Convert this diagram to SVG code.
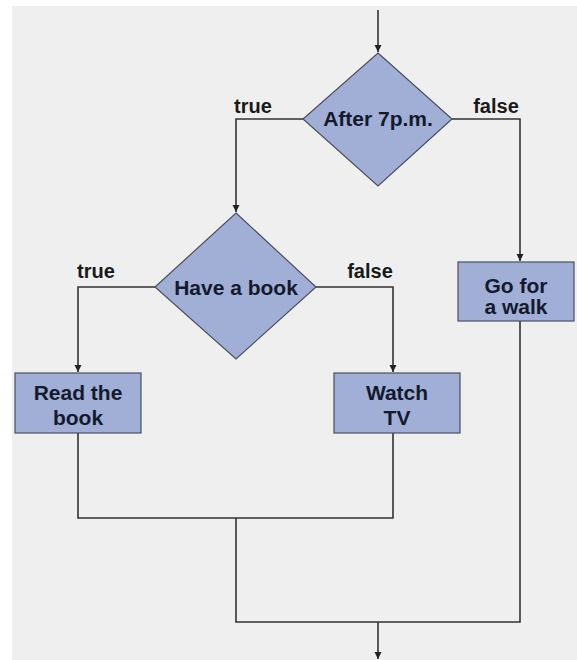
<svg xmlns="http://www.w3.org/2000/svg" width="577" height="660" viewBox="0 0 577 660">
<defs>
<marker id="arr" viewBox="0 0 10 10" refX="10" refY="5" markerWidth="7" markerHeight="9" markerUnits="userSpaceOnUse" orient="auto">
<path d="M0,0 L10,5 L0,10 z" fill="#222"/>
</marker>
<style>
.shape{fill:#a1afd7;stroke:#4a4f5e;stroke-width:1.2}
.t{font-family:"Liberation Sans",Arial,sans-serif;font-weight:bold;font-size:21px;fill:#141a2e;text-anchor:middle}
.lbl{font-family:"Liberation Sans",Arial,sans-serif;font-weight:bold;font-size:20px;fill:#1a1a1a;text-anchor:middle}
.c{fill:none;stroke:#333;stroke-width:1.6}
</style>
</defs>
<rect x="0" y="0" width="577" height="660" fill="#ffffff"/>
<rect x="12" y="6" width="565" height="654" fill="#efefef"/>
<g id="connectors">
<path class="c" d="M378,10 V52" marker-end="url(#arr)"/>
<path class="c" d="M303,119 H236 V212" marker-end="url(#arr)"/>
<path class="c" d="M452,119 H520 V261" marker-end="url(#arr)"/>
<path class="c" d="M155,287 H78 V372" marker-end="url(#arr)"/>
<path class="c" d="M316,287 H393 V372" marker-end="url(#arr)"/>
<path class="c" d="M78,433 V518 H393 V433"/>
<path class="c" d="M236,518 V622 H520 V321"/>
<path class="c" d="M378,622 V659" marker-end="url(#arr)"/>
<text class="lbl" x="253" y="113">true</text>
<text class="lbl" x="496" y="113">false</text>
<text class="lbl" x="96" y="278">true</text>
<text class="lbl" x="370" y="278">false</text>
</g>
<g id="after7">
<polygon class="shape" points="378,53 452,119 378,186 303,119"/>
<text class="t" x="378" y="126">After 7p.m.</text>
</g>
<g id="haveBook">
<polygon class="shape" points="236,213 316,287 236,359 155,287"/>
<text class="t" x="236" y="295">Have a book</text>
</g>
<g id="readBook">
<rect class="shape" x="15" y="373" width="126" height="60"/>
<text class="t" x="78" y="400">Read the</text>
<text class="t" x="78" y="425">book</text>
</g>
<g id="watchTV">
<rect class="shape" x="334" y="373" width="126" height="60"/>
<text class="t" x="397" y="400">Watch</text>
<text class="t" x="397" y="425">TV</text>
</g>
<g id="walk">
<rect class="shape" x="458" y="262" width="116" height="59"/>
<text class="t" x="516" y="293">Go for</text>
<text class="t" x="516" y="314">a walk</text>
</g>
</svg>
